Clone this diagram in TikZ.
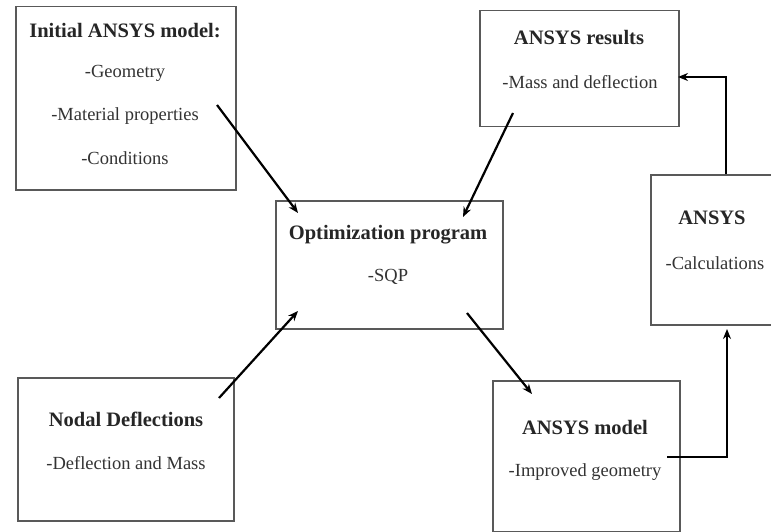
\documentclass[tikz,border=0pt]{standalone}
\usepackage{fontspec}
\setmainfont{Liberation Serif}
\usetikzlibrary{arrows.meta}
\begin{document}
\begin{tikzpicture}[x=1pt,y=-1pt,
  box/.style={draw=black!65,line width=1.5pt,anchor=north west,inner sep=0pt},
  ttl/.style={font=\fontsize{20.5}{22}\selectfont\bfseries,text=black!85,inner sep=0pt},
  txt/.style={font=\fontsize{18.5}{20}\selectfont,text=black!80,inner sep=0pt},
  arr/.style={line width=2.2pt,-{Stealth[length=10pt,width=8pt]}}]
\useasboundingbox[fill=white] (0,0) rectangle (771,532);
% boxes
\node[box,minimum width=220pt,minimum height=183pt] (init) at (15,6) {};
\node[box,minimum width=199pt,minimum height=116pt] (res) at (479,10) {};
\node[box,minimum width=130pt,minimum height=150pt] (calc) at (650,174) {};
\node[box,minimum width=227pt,minimum height=128pt] (opt) at (275,200) {};
\node[box,minimum width=216pt,minimum height=143pt] (nod) at (17,377) {};
\node[box,minimum width=187pt,minimum height=151pt] (mod) at (492,380) {};
% texts
\node[ttl] (t1) at (125,31) {Initial ANSYS model:};
\node[txt] (t1a) at (125,73) {-Geometry};
\node[txt] (t1b) at (125,116) {-Material properties};
\node[txt] (t1c) at (125,158) {-Conditions};
\node[ttl] (t2) at (579,38) {ANSYS results};
\node[txt] (t2a) at (580,82) {-Mass and deflection};
\node[ttl] (t3) at (712,218) {ANSYS};
\node[txt] (t3a) at (715,263) {-Calculations};
\node[ttl] (t4) at (388,235) {Optimization program};
\node[txt] (t4a) at (388,277) {-SQP};
\node[ttl] (t5) at (126,419) {Nodal Deflections};
\node[txt] (t5a) at (126,463) {-Deflection and Mass};
\node[ttl] (t6) at (585,427) {ANSYS model};
\node[txt] (t6a) at (585,472) {-Improved geometry};
% connector end points
\coordinate (a1s) at (217,105); \coordinate (a1e) at (298,213);
\coordinate (a2s) at (513,113); \coordinate (a2e) at (463,217);
\coordinate (a3s) at (219,398); \coordinate (a3e) at (298,311);
\coordinate (a4s) at (467,313); \coordinate (a4e) at (532,394);
\coordinate (a5s) at (667,457); \coordinate (a5c) at (727,457); \coordinate (a5e) at (727,329);
\coordinate (a6s) at (726,174); \coordinate (a6c) at (726,77); \coordinate (a6e) at (678,77);
% connectors
\draw[arr] (a1s) -- (a1e);
\draw[arr] (a2s) -- (a2e);
\draw[arr] (a3s) -- (a3e);
\draw[arr] (a4s) -- (a4e);
\draw[arr] (a5s) -- (a5c) -- (a5e);
\draw[arr] (a6s) -- (a6c) -- (a6e);
\end{tikzpicture}
\end{document}
